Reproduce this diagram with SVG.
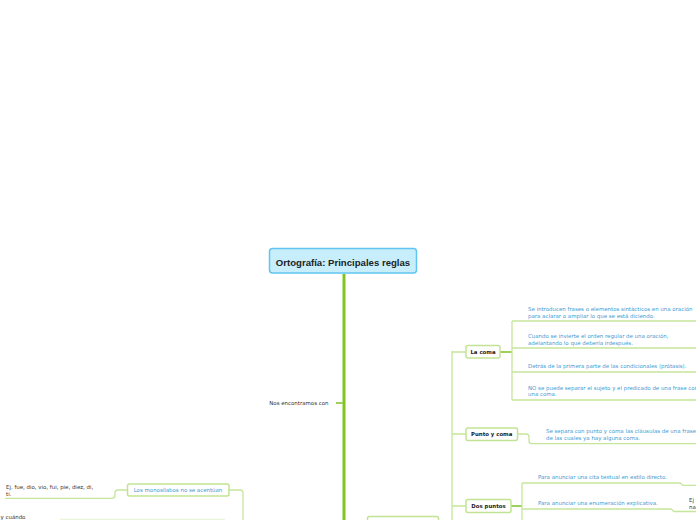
<svg xmlns="http://www.w3.org/2000/svg" width="696" height="520" viewBox="0 0 696 520">
<style>
.bg{fill:#ffffff}
.trunk{fill:none;stroke:#82c41e;stroke-width:3}
.ln{fill:none;stroke:#c6e69c;stroke-width:1.3}
.lnb{fill:none;stroke:#9fd15a;stroke-width:2}
.box{fill:#ffffff;stroke:#c2e393;stroke-width:1.5}
.cbox{fill:#c8edfb;stroke:#62c5f0;stroke-width:1.5}
.title{font-family:"Liberation Sans",Arial,sans-serif;font-weight:bold;font-size:9.6px;fill:#222}
.lab{font-family:"DejaVu Sans",Verdana,sans-serif;font-weight:bold;font-size:5.4px;fill:#222}
.bt{font-family:"DejaVu Sans",Verdana,sans-serif;font-size:5.45px;fill:#3d9bd4}
.dt{font-family:"DejaVu Sans",Verdana,sans-serif;font-size:5.45px;fill:#333}
</style>
<rect class="bg" x="0" y="0" width="696" height="520"/>
<g id="connectors">
<path class="trunk" d="M344,274 V520"/>
<path class="lnb" d="M336,403 H343"/>
<path class="ln" d="M452,351 V520 M452,352 H466 M452,434 H466 M452,506 H466"/>
<path class="lnb" d="M500,352 H512"/>
<path class="ln" d="M512,321 V400 M512,321 H696 M512,348 H696 M512,372 H696 M512,400 H696"/>
<path class="ln" d="M517,434 H526 Q529,434 529,437 V441 Q529,443.7 532,443.7 H696"/>
<path class="lnb" d="M511,506 H522"/>
<path class="ln" d="M522,483 V520 M522,483 H680 L683,485.3 H696 M522,509 H671 L674,511.5 H696"/>
<path class="ln" d="M229,490 H240 Q243,490 243,493 V520"/>
<path class="ln" d="M127,490 H118 Q115,490 115,493 V495.5 Q115,498.3 112,498.3 H5"/>
<path fill="none" stroke="#e4f2d2" stroke-width="1" d="M60,519.3 H225"/>
</g>
<g id="central">
<rect class="cbox" x="269.5" y="248.5" width="147" height="24.5" rx="3"/>
<text class="title" x="343" y="266" text-anchor="middle">Ortografía: Principales reglas</text>
</g>
<g id="nos-encontramos">
<text class="dt" x="269.3" y="405">Nos encontramos con</text>
</g>
<g id="la-coma">
<rect class="box" x="466" y="345.5" width="34" height="12.5" rx="2"/>
<text class="lab" x="483" y="354.2" text-anchor="middle">La coma</text>
</g>
<g id="coma-1">
<text class="bt" x="528" y="311.3">Se introducen frases o elementos sintácticos en una oración</text>
<text class="bt" x="528" y="317.8">para aclarar o ampliar lo que se está diciendo.</text>
</g>
<g id="coma-2">
<text class="bt" x="528" y="338.2">Cuando se invierte el orden regular de una oración,</text>
<text class="bt" x="528" y="344.6">adelantando lo que debería irdespués.</text>
</g>
<g id="coma-3">
<text class="bt" x="528" y="367.8">Detrás de la primera parte de las condicionales (prótasis).</text>
</g>
<g id="coma-4">
<text class="bt" x="528" y="389.6">NO se puede separar el sujeto y el predicado de una frase con</text>
<text class="bt" x="528" y="396.2">una coma.</text>
</g>
<g id="punto-y-coma">
<rect class="box" x="466" y="428" width="51.5" height="12.5" rx="2"/>
<text class="lab" x="491.7" y="436.4" text-anchor="middle">Punto y coma</text>
</g>
<g id="pyc-1">
<text class="bt" x="546" y="433">Se separa con punto y coma las cláusulas de una frase dentro</text>
<text class="bt" x="546" y="440.3">de las cuales ya hay alguna coma.</text>
</g>
<g id="dos-puntos">
<rect class="box" x="466" y="499.5" width="45" height="13" rx="2"/>
<text class="lab" x="488.5" y="508.2" text-anchor="middle">Dos puntos</text>
</g>
<g id="dp-1">
<text class="bt" x="538" y="478.6">Para anunciar una cita textual en estilo directo.</text>
</g>
<g id="dp-2">
<text class="bt" x="538" y="505">Para anunciar una enumeración explicativa.</text>
</g>
<g id="dp-ej">
<text class="dt" x="689" y="502">Ej</text>
<text class="dt" x="689" y="508.5">na</text>
</g>
<g id="monosilabos">
<rect class="box" x="127.5" y="484" width="101.5" height="12" rx="2"/>
<text class="bt" x="178" y="491.6" text-anchor="middle">Los monosílabos no se acentúan</text>
</g>
<g id="mono-ej">
<text class="dt" x="6" y="489.3">Ej. fue, dio, vio, fui, pie, diez, di,</text>
<text class="dt" x="6" y="495.5">ti.</text>
</g>
<g id="y-cuando">
<text class="dt" x="0.5" y="518.6">y cuándo</text>
</g>
<g id="bottom-node">
<rect class="box" x="367.5" y="516.5" width="71" height="12" rx="2"/>
</g>
</svg>
